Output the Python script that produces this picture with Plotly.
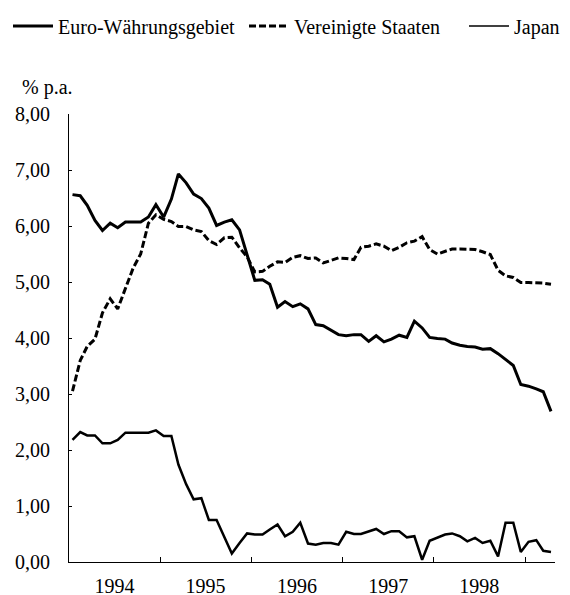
import pandas as pd
import plotly.graph_objects as go

# Monthly observations, January 1994 - April 1999
months = pd.date_range("1994-01-01", periods=64, freq="MS") + pd.Timedelta(days=14)

euro = [6.56, 6.54, 6.37, 6.10, 5.92, 6.05, 5.97, 6.07, 6.07, 6.07, 6.16, 6.38,
        6.16, 6.48, 6.93, 6.77, 6.57, 6.49, 6.32, 6.01, 6.07, 6.11, 5.93, 5.50,
        5.03, 5.04, 4.96, 4.55, 4.65, 4.56, 4.61, 4.52, 4.24, 4.22, 4.14, 4.06,
        4.04, 4.06, 4.06, 3.94, 4.04, 3.93, 3.98, 4.05, 4.01, 4.30, 4.18, 4.01,
        3.99, 3.98, 3.91, 3.87, 3.85, 3.84, 3.80, 3.81, 3.72, 3.62, 3.51, 3.17,
        3.14, 3.09, 3.04, 2.69]

usa = [3.05, 3.60, 3.85, 3.98, 4.45, 4.70, 4.52, 4.90, 5.25, 5.50, 6.05, 6.20,
       6.12, 6.08, 5.99, 5.99, 5.93, 5.90, 5.74, 5.67, 5.79, 5.80, 5.61, 5.45,
       5.18, 5.19, 5.28, 5.36, 5.35, 5.44, 5.47, 5.42, 5.43, 5.34, 5.39, 5.43,
       5.42, 5.40, 5.62, 5.64, 5.68, 5.64, 5.56, 5.62, 5.70, 5.73, 5.81, 5.58,
       5.50, 5.55, 5.59, 5.59, 5.59, 5.58, 5.54, 5.49, 5.21, 5.11, 5.08, 4.99,
       4.99, 4.99, 4.98, 4.96]

japan = [2.18, 2.32, 2.26, 2.26, 2.12, 2.12, 2.18, 2.31, 2.31, 2.31, 2.31, 2.35,
         2.25, 2.25, 1.74, 1.39, 1.12, 1.14, 0.75, 0.75, 0.46, 0.15, 0.34, 0.51,
         0.49, 0.49, 0.58, 0.67, 0.46, 0.54, 0.70, 0.33, 0.31, 0.34, 0.34, 0.31,
         0.54, 0.50, 0.50, 0.55, 0.59, 0.50, 0.55, 0.55, 0.44, 0.46, 0.04, 0.38,
         0.43, 0.49, 0.51, 0.46, 0.37, 0.43, 0.34, 0.38, 0.10, 0.70, 0.70, 0.18,
         0.36, 0.39, 0.20, 0.18]

years = ["1994", "1995", "1996", "1997", "1998"]
year_centers = [f"{y}-07-02" for y in years]
year_bounds = ["1995-01-01", "1996-01-01", "1997-01-01", "1998-01-01", "1999-01-01"]
y_ticks = [0, 1, 2, 3, 4, 5, 6, 7, 8]

FONT = "Liberation Serif"
FS = 20
W, H = 562, 587   # page body adds an 8px margin around the figure

fig = go.Figure()
fig.add_trace(go.Scatter(x=months, y=euro, mode="lines", name="Euro-Währungsgebiet",
                         line=dict(color="black", width=3), legend="legend"))
fig.add_trace(go.Scatter(x=months, y=usa, mode="lines", name="Vereinigte Staaten",
                         line=dict(color="black", width=3, dash="7px,3px"), legend="legend2"))
fig.add_trace(go.Scatter(x=months, y=japan, mode="lines", name="Japan",
                         line=dict(color="black", width=2.5), showlegend=False,
                         legendgroup="jp"))
# legend entry for Japan (thin sample line as in the reference legend)
fig.add_trace(go.Scatter(x=[None], y=[None], mode="lines", name="Japan",
                         line=dict(color="black", width=1.5), legend="legend3",
                         legendgroup="jp"))

common_legend = dict(orientation="h", xref="container", yref="container",
                     xanchor="left", yanchor="middle", y=1 - 18 / H,
                     bgcolor="rgba(0,0,0,0)", borderwidth=0, itemwidth=40,
                     font=dict(family=FONT, size=FS, color="black"))

fig.update_layout(
    width=W, height=H,
    margin=dict(l=61, r=15, t=106, b=33, autoexpand=False),
    paper_bgcolor="white", plot_bgcolor="white",
    font=dict(family=FONT, size=FS, color="black"),
    separators=",.",
    legend=dict(common_legend, x=-5 / W),
    legend2=dict(common_legend, x=236 / W),
    legend3=dict(common_legend, x=456 / W),
    xaxis=dict(type="date", range=["1994-01-01", "1999-05-01"], automargin=False,
               showline=True, linecolor="black", linewidth=1,
               showgrid=False, zeroline=False,
               tickmode="array", tickvals=year_centers, ticktext=years,
               ticks="", ticklabelstandoff=6,
               minor=dict(tickmode="array", tickvals=year_bounds, ticks="inside",
                          ticklen=5, tickwidth=1, tickcolor="black", showgrid=False)),
    yaxis=dict(range=[0, 8], automargin=False, showline=True, linecolor="black", linewidth=1,
               showgrid=False, zeroline=False,
               tickmode="array", tickvals=y_ticks, tickformat=".2f",
               ticks="inside", ticklen=3, tickwidth=1, tickcolor="black",
               ticklabelstandoff=14),
    annotations=[dict(text="% p.a.", xref="paper", yref="paper", x=-0.1, y=1.06,
                      xanchor="left", yanchor="middle", showarrow=False,
                      font=dict(family=FONT, size=FS, color="black"))],
)

fig.write_html("out.html")
